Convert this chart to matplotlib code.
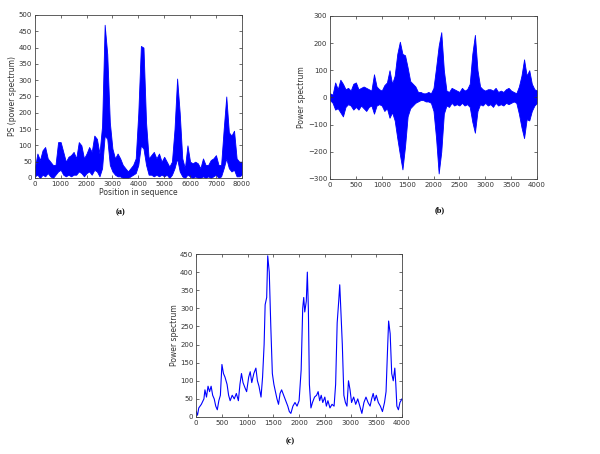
import numpy as np
import matplotlib.pyplot as plt

plt.switch_backend('agg')

# (a) PS along the sequence: envelope of the dense trace, step 100
pos_a = np.arange(0, 8001, 100)
upper_a = [30, 75, 55, 85, 95, 60, 50, 40, 40, 110,
           110, 80, 50, 65, 70, 80, 60, 110, 100, 60,
           75, 95, 80, 130, 120, 75, 160, 470, 380, 170,
           90, 60, 75, 60, 40, 30, 20, 30, 40, 60,
           200, 405, 400, 170, 60, 70, 80, 60, 75, 50,
           65, 50, 35, 50, 150, 305, 200, 60, 30, 100,
           50, 45, 50, 45, 30, 60, 40, 40, 55, 60,
           70, 40, 40, 150, 250, 140, 130, 145, 60, 50,
           50]
lower_a = [5, 10, 0, 10, 5, 15, 5, 0, 10, 20,
           25, 10, 5, 10, 5, 10, 10, 20, 15, 5,
           15, 20, 10, 25, 20, 5, 30, 130, 120, 40,
           20, 10, 5, 5, 0, 0, 0, 5, 10, 15,
           40, 100, 90, 40, 10, 10, 5, 10, 5, 10,
           5, 10, 0, 10, 30, 60, 20, 5, 0, 10,
           5, 0, 5, 0, 0, 5, 0, 5, 0, 5,
           10, 0, 5, 30, 60, 30, 20, 25, 5, 5,
           10]

# (b) envelope, step 50
pos_b = np.arange(0, 4001, 50)
upper_b = [15, 10, 55, 30, 65, 50, 30, 35, 25, 50,
           55, 30, 35, 40, 35, 30, 25, 85, 40, 30,
           25, 45, 55, 100, 50, 80, 160, 205, 160, 155,
           110, 60, 50, 40, 20, 20, 15, 15, 20, 15,
           35, 110, 190, 240, 100, 25, 20, 35, 30, 25,
           20, 35, 25, 30, 50, 160, 230, 100, 40, 30,
           25, 30, 30, 25, 35, 20, 25, 20, 30, 35,
           25, 20, 15, 40, 80, 140, 80, 100, 50, 30,
           25]
lower_b = [-10, -20, -45, -40, -55, -70, -35, -25, -30, -45,
           -35, -45, -30, -40, -50, -35, -30, -60, -30, -25,
           -30, -50, -40, -75, -55, -85, -150, -210, -265, -180,
           -70, -40, -30, -20, -15, -10, -10, -15, -15, -20,
           -50, -150, -280, -200, -60, -30, -35, -20, -30, -25,
           -30, -20, -30, -25, -35, -90, -130, -50, -25, -30,
           -20, -30, -25, -35, -20, -30, -25, -30, -20, -25,
           -20, -15, -20, -60, -110, -150, -80, -85, -50, -30,
           -20]

# (c) smoothed power spectrum
pos_c = [0, 25, 50, 100, 150, 170, 200, 230, 260, 290, 320, 350, 380, 410, 440,
         470, 500, 530, 560, 600, 630, 660, 700, 740, 780, 820, 850, 880, 910,
         950, 980, 1020, 1050, 1080, 1120, 1160, 1190, 1220, 1260, 1290, 1320,
         1340, 1370, 1390, 1420, 1450, 1480, 1510, 1540, 1570, 1600, 1630, 1660,
         1700, 1740, 1780, 1810, 1840, 1880, 1920, 1960, 2000, 2040, 2070, 2090,
         2110, 2140, 2160, 2180, 2200, 2230, 2260, 2300, 2340, 2370, 2400, 2430,
         2460, 2500, 2530, 2560, 2600, 2640, 2680, 2710, 2740, 2770, 2790, 2810,
         2840, 2870, 2900, 2930, 2960, 2990, 3020, 3060, 3100, 3140, 3180, 3220,
         3260, 3300, 3340, 3380, 3410, 3440, 3470, 3500, 3540, 3580, 3620, 3660,
         3690, 3720, 3740, 3770, 3800, 3830, 3860, 3880, 3900, 3930, 3960, 4000]
ps_c = [15, 5, 25, 35, 50, 75, 55, 85, 70, 85, 60, 50, 30, 20, 45,
        60, 145, 120, 110, 90, 60, 45, 60, 50, 65, 45, 90, 120, 95,
        80, 70, 110, 125, 95, 120, 135, 100, 85, 55, 110, 200,
        310, 330, 445, 400, 250, 120, 90, 70, 50, 35, 65, 75,
        60, 45, 30, 15, 10, 30, 40, 30, 45, 130, 300, 330,
        290, 320, 400, 300, 90, 25, 40, 55, 60, 70, 45, 60,
        40, 55, 30, 45, 25, 35, 30, 90, 260, 320, 365, 300,
        200, 60, 40, 30, 100, 75, 40, 55, 35, 50, 30, 10,
        40, 55, 40, 30, 50, 65, 45, 60, 40, 30, 15, 40,
        70, 190, 265, 230, 120, 100, 135, 90, 30, 20, 40, 50]

blue = '#0000ff'
plt.rcParams['font.family'] = 'DejaVu Sans'
plt.rcParams['font.size'] = 5

fig = plt.figure(figsize=(6, 4.54), dpi=100)


def style(ax):
    ax.tick_params(direction='in', top=True, right=True, length=2,
                   width=0.5, labelsize=5, colors='#333333', pad=2)
    for s in ax.spines.values():
        s.set_linewidth(0.6)
        s.set_color('#444444')


ax1 = fig.add_axes([0.058, 0.608, 0.345, 0.359])
ax1.fill_between(pos_a, lower_a, upper_a, color=blue, linewidth=0.6, edgecolor=blue)
ax1.set_xlim(0, 8000)
ax1.set_ylim(0, 500)
ax1.set_xticks(range(0, 8001, 1000))
ax1.set_yticks(range(0, 501, 50))
ax1.set_xlabel('Position in sequence', fontsize=5.5, labelpad=1, color='#333333')
ax1.set_ylabel('PS (power spectrum)', fontsize=5.5, labelpad=1, color='#333333')
style(ax1)

ax2 = fig.add_axes([0.55, 0.606, 0.345, 0.359])
ax2.fill_between(pos_b, lower_b, upper_b, color=blue, linewidth=0.6, edgecolor=blue)
ax2.set_xlim(0, 4000)
ax2.set_ylim(-300, 300)
ax2.set_xticks(range(0, 4001, 500))
ax2.set_yticks(range(-300, 301, 100))
ax2.set_ylabel('Power spectrum', fontsize=5.5, labelpad=1, color='#333333')
style(ax2)

ax3 = fig.add_axes([0.327, 0.0815, 0.343, 0.359])
ax3.plot(pos_c, ps_c, color=blue, linewidth=0.8)
ax3.set_xlim(0, 4000)
ax3.set_ylim(0, 450)
ax3.set_xticks(range(0, 4001, 500))
ax3.set_yticks(range(0, 451, 50))
ax3.set_ylabel('Power spectrum', fontsize=5.5, labelpad=1, color='#333333')
style(ax3)

fig.text(121 / 600, 1 - 212 / 454, '(a)', ha='center', va='center',
         fontsize=6, fontweight='bold', family='Liberation Serif')
fig.text(440 / 600, 1 - 210 / 454, '(b)', ha='center', va='center',
         fontsize=6, fontweight='bold', family='Liberation Serif')
fig.text(290 / 600, 1 - 441 / 454, '(c)', ha='center', va='center',
         fontsize=6, fontweight='bold', family='Liberation Serif')

fig.savefig('out.png', dpi=100)
